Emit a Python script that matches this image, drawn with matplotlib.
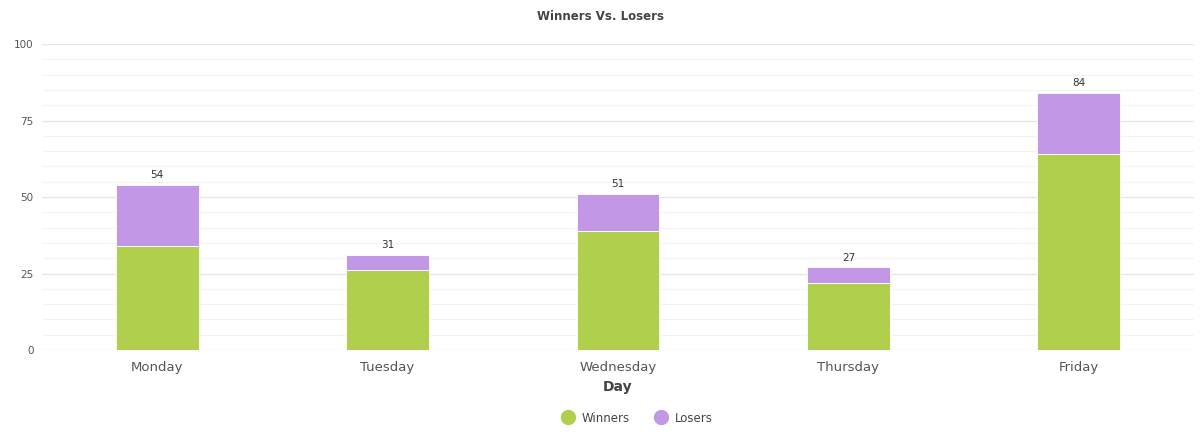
import numpy as np
import matplotlib.pyplot as plt
from matplotlib.lines import Line2D

days = ['Monday', 'Tuesday', 'Wednesday', 'Thursday', 'Friday']
winners = [34, 26, 39, 22, 64]
losers = [20, 5, 12, 5, 20]

green = '#b0cf4c'
purple = '#c297e6'

fig = plt.figure(figsize=(12.01, 4.44), dpi=100)
ax = fig.add_axes([42/1201, 1 - 350/444, (1194-42)/1201, (350-44)/444])

x = np.arange(len(days))
w = 0.36
ax.bar(x, winners, w, color=green, edgecolor='white', linewidth=0.6, zorder=3)
ax.bar(x, losers, w, bottom=winners, color=purple, edgecolor='white', linewidth=0.6, zorder=3)

totals = [a + b for a, b in zip(winners, losers)]
for xi, t in zip(x, totals):
    ax.annotate(str(t), (xi, t), xytext=(0, 3.5), textcoords='offset points',
                ha='center', va='bottom', fontsize=7.5, color='#333333')

ax.set_xlim(-0.5, 4.5)
ax.set_ylim(0, 100)
ax.set_yticks([0, 25, 50, 75, 100])
ax.set_yticks(np.arange(0, 101, 5), minor=True)
ax.grid(axis='y', which='major', color='#e6e6e6', linewidth=1, zorder=0)
ax.grid(axis='y', which='minor', color='#f3f3f3', linewidth=0.8, zorder=0)
ax.set_axisbelow(True)
for s in ax.spines.values():
    s.set_visible(False)
ax.tick_params(axis='both', which='both', length=0)
ax.tick_params(axis='y', labelsize=7.5, labelcolor='#555555', pad=6)
ax.tick_params(axis='x', labelsize=9.5, labelcolor='#555555', pad=8)
ax.set_xticks(x)
ax.set_xticklabels(days)
ax.set_xlabel('Day', fontsize=10, fontweight='bold', color='#444444', labelpad=4)

fig.text(0.5, 1 - 17/444, 'Winners Vs. Losers', ha='center', va='center',
         fontsize=8.5, fontweight='bold', color='#444444')

handles = [Line2D([], [], marker='o', linestyle='', markersize=10, color=green),
           Line2D([], [], marker='o', linestyle='', markersize=10, color=purple)]
fig.legend(handles, ['Winners', 'Losers'], loc='center', bbox_to_anchor=(0.528, 1 - 418/444),
           ncol=2, frameon=False, fontsize=8.5, handletextpad=0.2, columnspacing=1.6,
           labelcolor='#444444')

fig.savefig('out.png', dpi=100)
